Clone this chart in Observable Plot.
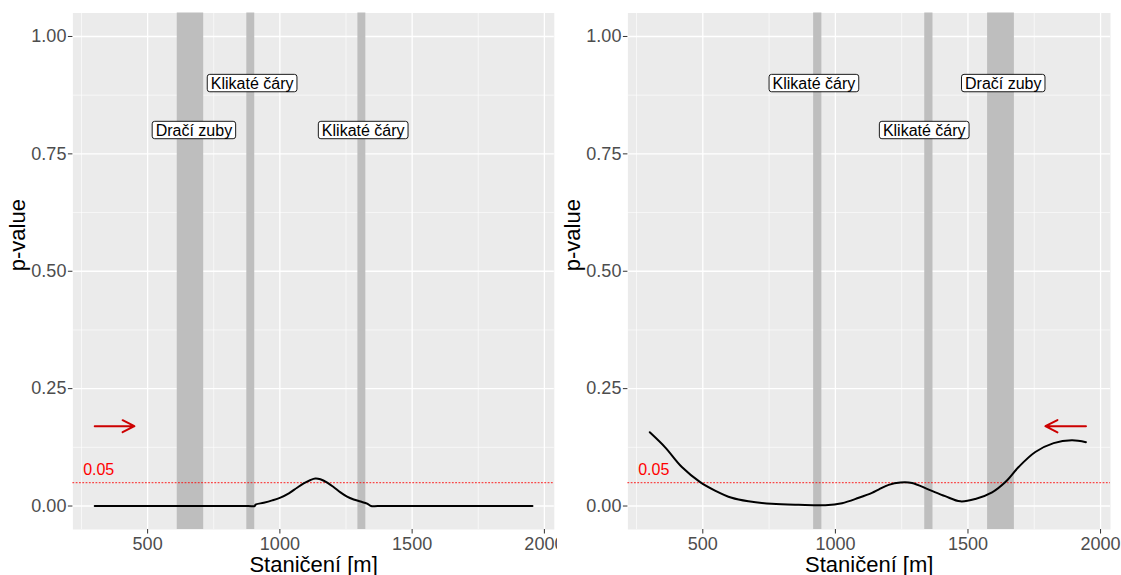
<!DOCTYPE html>
<html>
<head>
<meta charset="utf-8">
<script src="https://cdn.jsdelivr.net/npm/d3@7"></script>
<script src="https://cdn.jsdelivr.net/npm/@observablehq/plot@0.6"></script>
<style>
  html, body { margin: 0; padding: 0; background: white; overflow: hidden; }
  #wrap { display: flex; flex-direction: row; width: 1121px; height: 575px; }
  #wrap svg { overflow: hidden; flex: none; }
</style>
</head>
<body>
<div id="wrap"></div>
<script>
// ---- shared axis settings ----
const xDomain = [217.5, 2037.5];
const yDomain = [-0.05, 1.05];
const xTicks = [500, 1000, 1500, 2000];
const xMinor = [250, 750, 1250, 1750];
const yTicks = [0, 0.25, 0.5, 0.75, 1];
const yMinor = [0.125, 0.375, 0.625, 0.875];
const xTitle = "Staničení [m]";
const yTitle = "p-value";
const threshold = 0.05;
const thresholdLabel = "0.05";
const thresholdLabelX = 315;
const thresholdLabelY = 0.077;

// ---- left panel ----
const leftX = [300, 600, 880, 905, 908, 939, 971, 1002, 1034, 1065, 1090, 1116, 1134, 1153, 1179, 1204, 1229, 1254, 1279, 1305, 1330, 1345, 1370, 1650, 1955];
const leftP = [0, 0, 0, 0, 0.003, 0.007, 0.012, 0.018, 0.027, 0.039, 0.048, 0.0555, 0.0585, 0.057, 0.050, 0.040, 0.029, 0.020, 0.014, 0.0095, 0.005, 0, 0, 0, 0];
const leftRectStart = [612, 875, 1295];
const leftRectEnd = [712, 905, 1325];
const leftLabelText = ["Dračí zuby", "Klikaté čáry", "Klikaté čáry"];
const leftLabelX = [675, 895, 1315];
const leftLabelY = [0.8, 0.9, 0.8];
const leftArrow = {x1: 300, x2: 450, y: 0.17};

// ---- right panel ----
const rightX = [300, 358, 421, 490, 546, 609, 672, 760, 861, 962, 1025, 1088, 1138, 1163, 1201, 1245, 1289, 1352, 1414, 1471, 1528, 1591, 1641, 1691, 1754, 1823, 1892, 1945];
const rightP = [0.157, 0.125, 0.083, 0.051, 0.033, 0.0175, 0.010, 0.0047, 0.0025, 0.0017, 0.006, 0.0175, 0.028, 0.035, 0.045, 0.050, 0.049, 0.035, 0.021, 0.010, 0.015, 0.029, 0.051, 0.083, 0.115, 0.134, 0.140, 0.136];
const rightRectStart = [918, 1337, 1574];
const rightRectEnd = [949, 1368, 1675];
const rightLabelText = ["Klikaté čáry", "Klikaté čáry", "Dračí zuby"];
const rightLabelX = [919, 1335, 1633];
const rightLabelY = [0.9, 0.8, 0.9];
const rightArrow = {x1: 1945, x2: 1792, y: 0.17};

const FONT = "'Liberation Sans', Arial, sans-serif";

function panel({xs, ps, rs, re, lt, lx, ly, arrow, width, marginLeft, marginRight}) {
  const curve = xs.map((x, i) => ({x, p: ps[i]}));
  const rects = rs.map((s, i) => ({start: s, end: re[i]}));
  const labels = lt.map((t, i) => ({t, x: lx[i], y: ly[i]}));
  return Plot.plot({
    width, height: 575,
    marginLeft, marginRight, marginTop: 12.5, marginBottom: 46,
    style: {fontFamily: FONT, background: "white", color: "black", overflow: "hidden"},
    x: {domain: xDomain, label: null},
    y: {domain: yDomain, label: null},
    marks: [
      Plot.frame({fill: "#EBEBEB", stroke: "none"}),
      Plot.gridX(xMinor, {stroke: "white", strokeOpacity: 1, strokeWidth: 0.6}),
      Plot.gridY(yMinor, {stroke: "white", strokeOpacity: 1, strokeWidth: 0.6}),
      Plot.gridX(xTicks, {stroke: "white", strokeOpacity: 1, strokeWidth: 1.3}),
      Plot.gridY(yTicks, {stroke: "white", strokeOpacity: 1, strokeWidth: 1.3}),
      Plot.rect(rects, {x1: "start", x2: "end", fill: "#BEBEBE"}),
      Plot.ruleY([threshold], {stroke: "red", strokeOpacity: 0.7, strokeWidth: 1.2, strokeDasharray: "1.8,1.5"}),
      Plot.text([thresholdLabel], {x: thresholdLabelX, y: thresholdLabelY, text: d => d, fill: "red", fontSize: 16}),
      Plot.arrow([arrow], {x1: "x1", x2: "x2", y1: "y", y2: "y", stroke: "#CD0000", strokeWidth: 2, headLength: 10.5, headAngle: 54}),
      Plot.line(curve, {x: "x", y: "p", stroke: "black", strokeWidth: 2, curve: "catmull-rom"}),
      Plot.text(labels, {x: "x", y: "y", text: "t", fontSize: 16, fill: "black"}),
      Plot.axisX({ticks: xTicks, tickFormat: d3.format("d"), tickSize: 4.5, tickPadding: 3.5, fontSize: 18, fill: "#4D4D4D", stroke: "#333333", label: null}),
      Plot.axisY({ticks: yTicks, tickFormat: d3.format(".2f"), tickSize: 4.5, tickPadding: 2, fontSize: 18, fill: "#4D4D4D", stroke: "#333333", label: null}),
      Plot.text([xTitle], {text: d => d, frameAnchor: "bottom", dy: 42, lineAnchor: "bottom", fontSize: 22, fill: "black"}),
      Plot.text([yTitle], {text: d => d, frameAnchor: "left", rotate: -90, dx: -47.5, lineAnchor: "bottom", fontSize: 22, fill: "black"})
    ]
  });
}

function addBoxes(svg, texts) {
  const set = new Set(texts);
  svg.querySelectorAll("text").forEach(t => {
    if (!set.has(t.textContent)) return;
    const b = t.getBBox();
    const r = document.createElementNS("http://www.w3.org/2000/svg", "rect");
    r.setAttribute("x", b.x - 3.5);
    r.setAttribute("y", b.y - 0.2);
    r.setAttribute("width", b.width + 7);
    r.setAttribute("height", b.height + 0.4);
    r.setAttribute("rx", 2.5);
    r.setAttribute("fill", "white");
    r.setAttribute("stroke", "black");
    r.setAttribute("stroke-width", 0.9);
    const tr = t.getAttribute("transform");
    if (tr) r.setAttribute("transform", tr);
    t.parentNode.insertBefore(r, t);
  });
}

const wrap = document.getElementById("wrap");
const left = panel({xs: leftX, ps: leftP, rs: leftRectStart, re: leftRectEnd, lt: leftLabelText, lx: leftLabelX, ly: leftLabelY, arrow: leftArrow, width: 557, marginLeft: 72.4, marginRight: 3.2});
const right = panel({xs: rightX, ps: rightP, rs: rightRectStart, re: rightRectEnd, lt: rightLabelText, lx: rightLabelX, ly: rightLabelY, arrow: rightArrow, width: 564, marginLeft: 70.4, marginRight: 11});
wrap.appendChild(left);
wrap.appendChild(right);
addBoxes(left, leftLabelText);
addBoxes(right, rightLabelText);
</script>
</body>
</html>
